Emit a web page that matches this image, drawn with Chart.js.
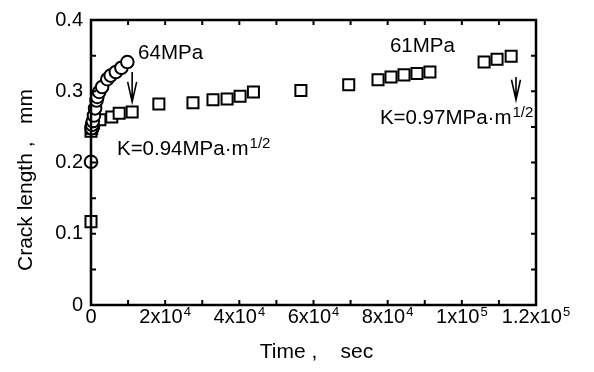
<!DOCTYPE html>
<html>
<head>
<meta charset="utf-8">
<script src="https://cdn.jsdelivr.net/npm/chart.js@4.4.0/dist/chart.umd.min.js"></script>
<style>
  html, body { margin: 0; padding: 0; background: #fff; }
</style>
</head>
<body>
<canvas id="chart" width="594" height="372"></canvas>
<script>
'use strict';
//64MPa run (circles)
var circleTime = [0, 150, 300, 500, 800, 1100, 1500, 1700, 2200, 3000, 4400, 5300, 6700, 8200, 9800];
var circleLength = [0.201, 0.248, 0.253, 0.258, 0.266, 0.276, 0.287, 0.292, 0.299, 0.306, 0.317, 0.322, 0.327, 0.333, 0.341];
//61MPa run (squares)
var squareTime = [0, 0, 200, 400, 700, 2400, 5600, 7600, 11100, 18300, 27500, 32900, 36700, 40200, 43800,
  56600, 69500, 77400, 80900, 84400, 87900, 91400, 106000, 109500, 113300];
var squareLength = [0.117, 0.244, 0.248, 0.252, 0.255, 0.260, 0.264, 0.269, 0.271, 0.282, 0.284, 0.288, 0.289, 0.293, 0.299,
  0.301, 0.309, 0.316, 0.320, 0.323, 0.325, 0.327, 0.341, 0.345, 0.349];
//tick labels
var xTickValues = [0, 20000, 40000, 60000, 80000, 100000, 120000];
var xTickBase = ['0', '2x10', '4x10', '6x10', '8x10', '1x10', '1.2x10'];
var xTickPower = ['', '4', '4', '4', '4', '5', '5'];
var yTickValues = [0, 0.1, 0.2, 0.3, 0.4];
var yTickLabels = ['0', '0.1', '0.2', '0.3', '0.4'];

var FONT = '"Liberation Sans", Arial, sans-serif';

function toPoints(xs, ys){
  var out = [];
  for(var i = 0; i < xs.length; i++){
    out.push({x: xs[i], y: ys[i]});
  }
  return out;
}

//text with a small raised part, e.g. 2x10^4
function drawSup(ctx, base, sup, x, y, size, supSize, rise, align){
  ctx.font = size + 'px ' + FONT;
  var w1 = ctx.measureText(base).width;
  ctx.font = supSize + 'px ' + FONT;
  var w2 = sup ? ctx.measureText(sup).width + 1 : 0;
  var left = x;
  if(align === 'center') left = x - (w1 + w2) / 2;
  ctx.textAlign = 'left';
  ctx.font = size + 'px ' + FONT;
  ctx.fillText(base, left, y);
  if(sup){
    ctx.font = supSize + 'px ' + FONT;
    ctx.fillText(sup, left + w1 + 1, y - rise);
  }
}

function drawArrow(ctx, x, y1, y2){
  ctx.beginPath();
  ctx.moveTo(x, y1);
  ctx.lineTo(x, y2);
  ctx.moveTo(x - 4.5, y2 - 20);
  ctx.lineTo(x, y2);
  ctx.lineTo(x + 4.5, y2 - 20);
  ctx.stroke();
}

var decorPlugin = {
  id: 'decor',
  afterDatasetsDraw: function(chart){
    var ctx = chart.ctx;
    var a = chart.chartArea;
    var xs = chart.scales.x;
    var ys = chart.scales.y;
    ctx.save();
    ctx.strokeStyle = '#000';
    ctx.fillStyle = '#000';

    //frame
    ctx.lineWidth = 2.5;
    ctx.strokeRect(a.left, a.top, a.right - a.left, a.bottom - a.top);

    //inward ticks, all four sides
    ctx.lineWidth = 2;
    ctx.beginPath();
    xs.ticks.forEach(function(t){
      var px = xs.getPixelForValue(t.value);
      ctx.moveTo(px, a.bottom);
      ctx.lineTo(px, a.bottom - 5);
      ctx.moveTo(px, a.top);
      ctx.lineTo(px, a.top + 5);
    });
    ys.ticks.forEach(function(t){
      var py = ys.getPixelForValue(t.value);
      ctx.moveTo(a.left, py);
      ctx.lineTo(a.left + 5, py);
      ctx.moveTo(a.right, py);
      ctx.lineTo(a.right - 5, py);
    });
    ctx.stroke();

    //tick labels
    ctx.textBaseline = 'alphabetic';
    for(var i = 0; i < xTickValues.length; i++){
      drawSup(ctx, xTickBase[i], xTickPower[i], xs.getPixelForValue(xTickValues[i]), a.bottom + 18, 20, 13, 7, 'center');
    }
    ctx.font = '20px ' + FONT;
    ctx.textAlign = 'right';
    ctx.textBaseline = 'middle';
    for(var j = 0; j < yTickValues.length; j++){
      ctx.fillText(yTickLabels[j], a.left - 8, ys.getPixelForValue(yTickValues[j]));
    }

    //axis titles
    ctx.font = '21px ' + FONT;
    ctx.textAlign = 'center';
    ctx.textBaseline = 'alphabetic';
    ctx.fillText('Time ,    sec', (a.left + a.right) / 2 + 3, 358);
    ctx.save();
    ctx.translate(32, 180);
    ctx.rotate(-Math.PI / 2);
    ctx.fillText('Crack length ,   mm', 0, 0);
    ctx.restore();

    //annotations
    ctx.textBaseline = 'alphabetic';
    ctx.lineWidth = 1.6;
    drawSup(ctx, '64MPa', '', xs.getPixelForValue(12700), ys.getPixelForValue(0.345), 20.5, 14, 0, 'left');
    drawArrow(ctx, xs.getPixelForValue(11100), ys.getPixelForValue(0.327), ys.getPixelForValue(0.285));
    drawSup(ctx, 'K=0.94MPa\u00b7m', '1/2', xs.getPixelForValue(7000), ys.getPixelForValue(0.2105), 20.5, 15, 7, 'left');

    drawSup(ctx, '61MPa', '', xs.getPixelForValue(80600), ys.getPixelForValue(0.355), 20.5, 14, 0, 'left');
    drawArrow(ctx, xs.getPixelForValue(114600), ys.getPixelForValue(0.320), ys.getPixelForValue(0.288));
    drawSup(ctx, 'K=0.97MPa\u00b7m', '1/2', xs.getPixelForValue(77900), ys.getPixelForValue(0.254), 20.5, 15, 7, 'left');

    ctx.restore();
  }
};

var ctx = document.getElementById('chart').getContext('2d');

new Chart(ctx, {
  type: 'scatter',
  data: {
    datasets: [
      {
        label: '64MPa',
        data: toPoints(circleTime, circleLength),
        pointStyle: 'circle',
        pointRadius: 6.3,
        borderColor: '#000',
        backgroundColor: '#fff',
        borderWidth: 2,
        clip: false,
      },
      {
        label: '61MPa',
        data: toPoints(squareTime, squareLength),
        pointStyle: 'rect',
        pointRadius: 7.8,
        borderColor: '#000',
        backgroundColor: '#fff',
        borderWidth: 2,
        clip: false,
      },
    ]
  },
  options: {
    responsive: false,
    animation: false,
    devicePixelRatio: 1,
    layout: { padding: { left: 0, right: 58, top: 20, bottom: 0 } },
    plugins: {
      legend: { display: false },
      tooltip: { enabled: false },
    },
    scales: {
      x: {
        type: 'linear',
        min: 0,
        max: 120000,
        grid: { display: false },
        border: { display: false },
        ticks: { display: false, stepSize: 10000 },
        afterFit: function(s){ s.height = 67; },
      },
      y: {
        type: 'linear',
        min: 0,
        max: 0.4,
        grid: { display: false },
        border: { display: false },
        ticks: { display: false, stepSize: 0.05 },
        afterFit: function(s){ s.width = 91; },
      },
    },
  },
  plugins: [decorPlugin],
});
</script>
</body>
</html>
